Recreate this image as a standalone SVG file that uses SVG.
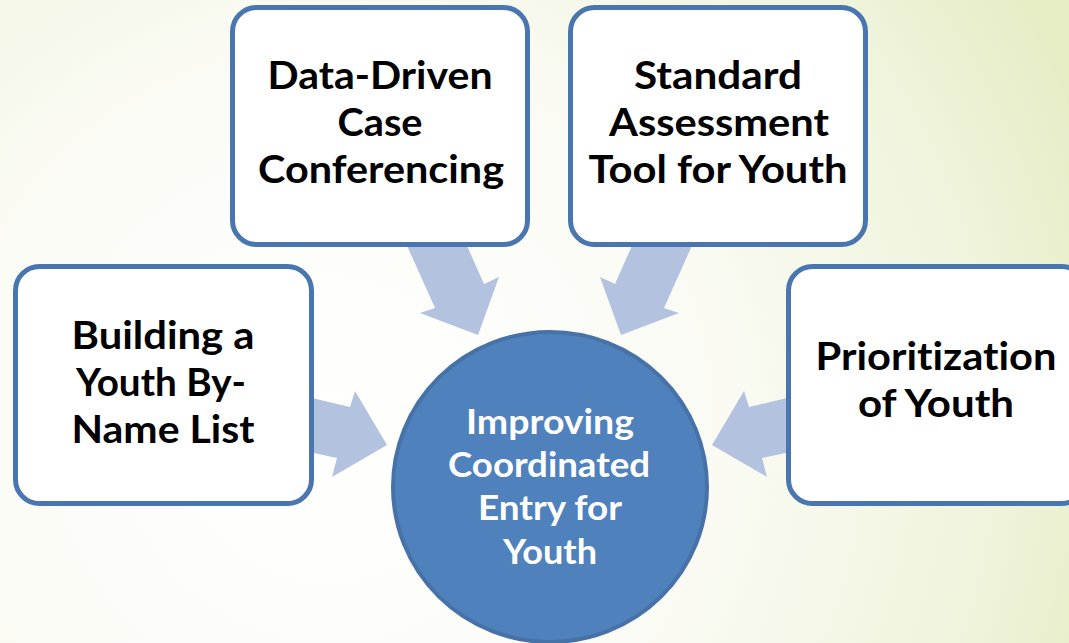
<svg xmlns="http://www.w3.org/2000/svg" width="1069" height="643" viewBox="0 0 1069 643">
  <defs>
    <radialGradient id="bg" cx="330" cy="430" r="820" gradientUnits="userSpaceOnUse">
      <stop offset="0" stop-color="#FFFFFF"/>
      <stop offset="0.45" stop-color="#FBFBF5"/>
      <stop offset="0.8" stop-color="#F0F4DD"/>
      <stop offset="1" stop-color="#E6EDC5"/>
    </radialGradient>
    <style>
      .box { fill: #FFFFFF; stroke: #4A76AF; stroke-width: 5; }
      .arrow { fill: #B3C3DF; stroke: none; }
      .lbl, .clbl { font-family: Lato, "Liberation Sans", sans-serif; font-weight: bold; text-anchor: middle; font-variant-ligatures: none; font-feature-settings: "liga" 0, "clig" 0, "dlig" 0, "hlig" 0; }
      .lbl { font-size: 39px; fill: #000000; }
      .clbl { font-size: 35px; fill: #FFFFFF; }
    </style>
  </defs>
  <rect x="0" y="0" width="1069" height="643" fill="url(#bg)"/>

  <g id="connectors">
    <polygon class="arrow" points="400,230 460,230 484,284 499,277 478,335 420,313 435,308"/>
    <polygon class="arrow" points="699,230 639,230 615,284 600,277 621,335 679,313 664,308"/>
    <polygon class="arrow" points="295,394 350,407 355,391 387,445 332,477 337,458 295,449"/>
    <polygon class="arrow" points="804,394 749,407 744,391 712,445 767,477 762,458 804,449"/>
  </g>

  <g id="node-data-driven">
    <rect class="box" x="232.5" y="7.5" width="295" height="237" rx="24"/>
    <text class="lbl" x="380" y="89" textLength="225" lengthAdjust="spacingAndGlyphs">Data-Driven</text>
    <text class="lbl" x="380" y="136" textLength="85" lengthAdjust="spacingAndGlyphs">Case</text>
    <text class="lbl" x="381" y="183" textLength="246" lengthAdjust="spacingAndGlyphs">Conferencing</text>
  </g>

  <g id="node-standard">
    <rect class="box" x="570.5" y="7.5" width="295" height="237" rx="24"/>
    <text class="lbl" x="718" y="89" textLength="168" lengthAdjust="spacingAndGlyphs">Standard</text>
    <text class="lbl" x="719" y="136" textLength="220" lengthAdjust="spacingAndGlyphs">Assessment</text>
    <text class="lbl" x="718" y="183" textLength="259" lengthAdjust="spacingAndGlyphs">Tool for Youth</text>
  </g>

  <g id="node-building">
    <rect class="box" x="15.5" y="266.5" width="296" height="237" rx="24"/>
    <text class="lbl" x="163" y="349" textLength="183" lengthAdjust="spacingAndGlyphs">Building a</text>
    <text class="lbl" x="161" y="396" textLength="170" lengthAdjust="spacingAndGlyphs">Youth By-</text>
    <text class="lbl" x="163" y="443" textLength="183" lengthAdjust="spacingAndGlyphs">Name List</text>
  </g>

  <g id="node-prioritization">
    <rect class="box" x="788.5" y="266.5" width="297" height="237" rx="24"/>
    <text class="lbl" x="936" y="370" textLength="241" lengthAdjust="spacingAndGlyphs">Prioritization</text>
    <text class="lbl" x="936" y="417" textLength="156" lengthAdjust="spacingAndGlyphs">of Youth</text>
  </g>

  <g id="node-center">
    <ellipse cx="550" cy="487" rx="157" ry="155" fill="#4F81BD" stroke="#4672A8" stroke-width="4"/>
    <text class="clbl" x="550" y="434" textLength="168" lengthAdjust="spacingAndGlyphs">Improving</text>
    <text class="clbl" x="549" y="477" textLength="202" lengthAdjust="spacingAndGlyphs">Coordinated</text>
    <text class="clbl" x="550" y="520" textLength="144" lengthAdjust="spacingAndGlyphs">Entry for</text>
    <text class="clbl" x="550" y="564" textLength="94" lengthAdjust="spacingAndGlyphs">Youth</text>
  </g>
</svg>
